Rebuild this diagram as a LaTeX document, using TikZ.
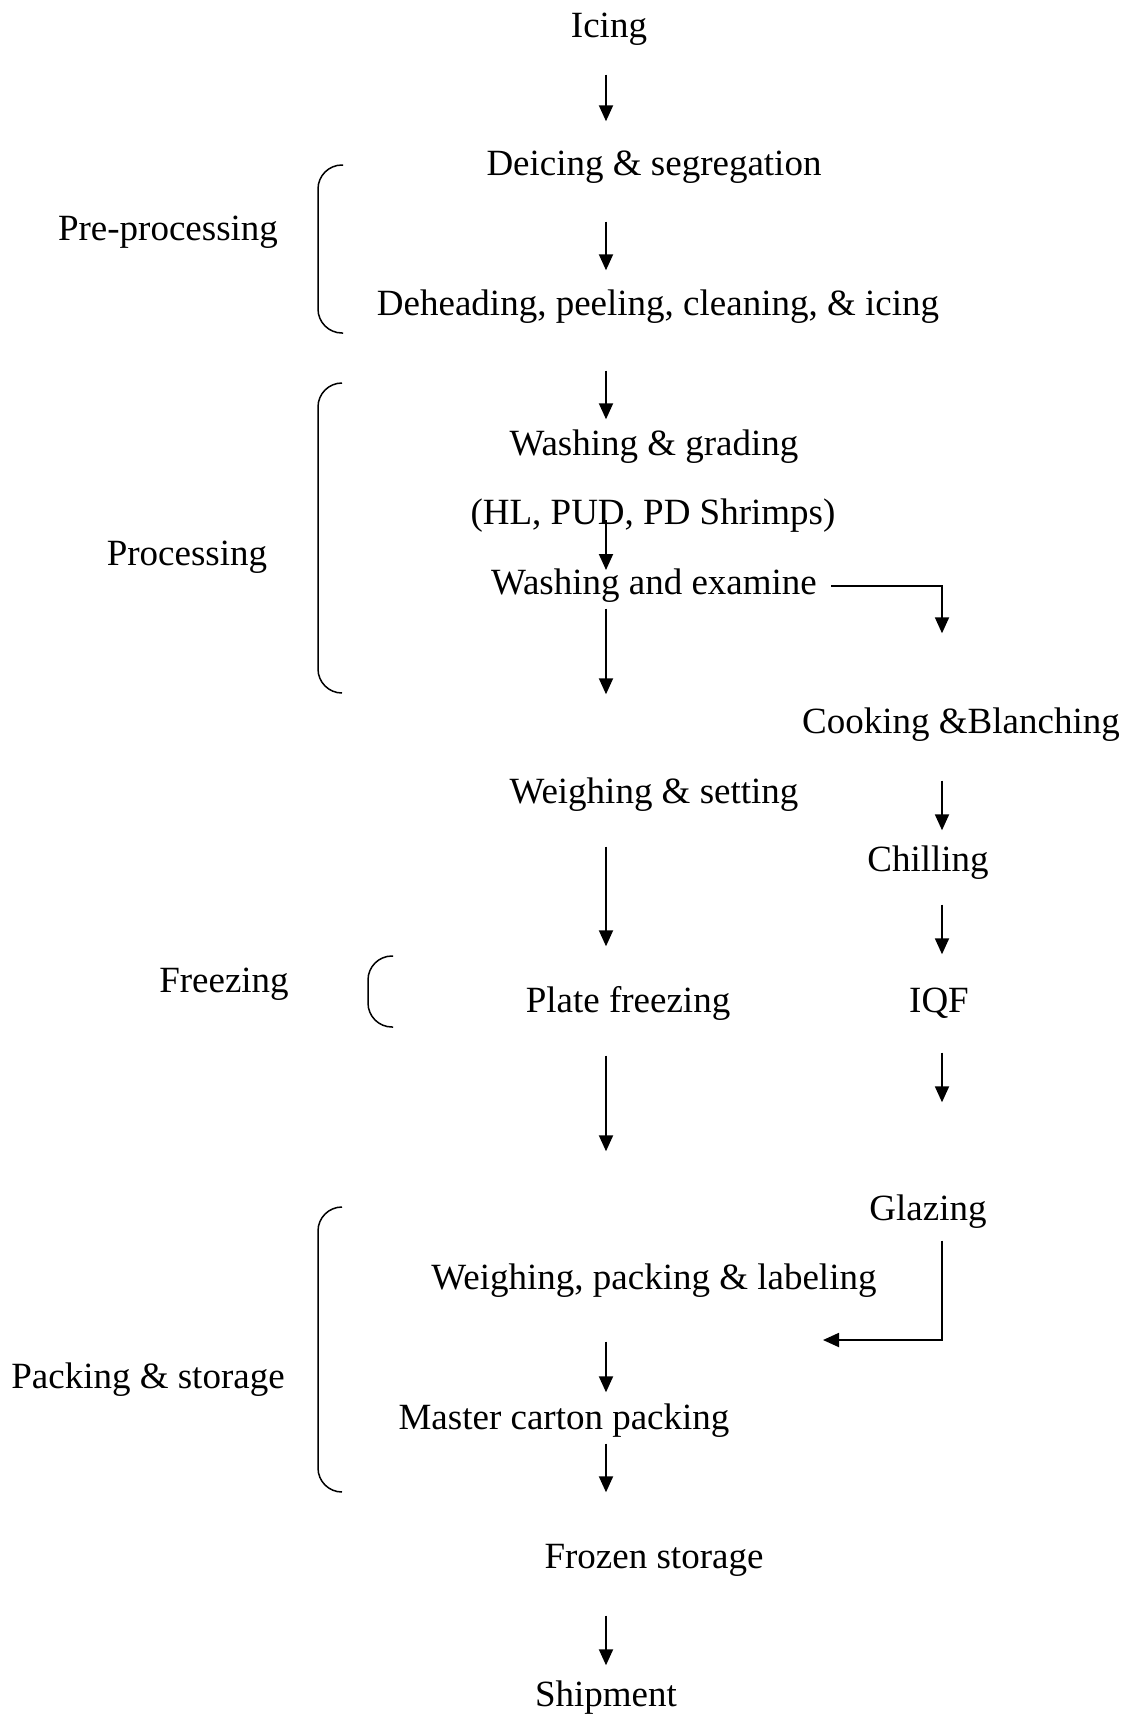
\documentclass[tikz,border=0pt]{standalone}
\usepackage{fontspec}
\setmainfont{Liberation Serif}
\usepackage{tikz}
\usetikzlibrary{arrows.meta}
\tikzset{
  pfstep/.style={
    inner sep=0pt, text height=31pt, text depth=4pt,
    font=\fontsize{37}{44}\selectfont
  },
  pfphase/.style={pfstep},
  pfedge/.style={-{Triangle[length=16pt,width=14pt]},line width=1.9pt},
  pfbrace/.style={line width=1.5pt,rounded corners=24pt}
}

\begin{document}
\begin{tikzpicture}[x=1pt,y=-1pt]
  \useasboundingbox (0,0) rectangle (1127,1721);
  \coordinate (spine) at (606,0);
  \coordinate (rspine) at (942,0);

  % Main line
  \node[pfstep] (icing) at (609,24) {Icing};
  \node[pfstep] (deice) at (654,162) {Deicing \& segregation};
  \node[pfstep] (dehead) at (658,302) {Deheading, peeling, cleaning, \& icing};
  \node[pfstep] (grade) at (654,442) {Washing \& grading};
  \node[pfstep] (hl) at (653,511) {(HL, PUD, PD Shrimps)};
  \node[pfstep] (examine) at (654,581) {Washing and examine};
  \node[pfstep] (setting) at (654,790) {Weighing \& setting};
  \node[pfstep] (plate) at (628,999) {Plate freezing};
  \node[pfstep] (wpl) at (654,1276) {Weighing, packing \& labeling};
  \node[pfstep] (master) at (564,1416) {Master carton packing};
  \node[pfstep] (frozen) at (654,1555) {Frozen storage};
  \node[pfstep] (ship) at (606,1693) {Shipment};

  \draw[pfedge,shorten <=33pt,shorten >=23pt] (icing.south -| spine) -- (deice.north -| spine);
  \draw[pfedge,shorten <=42pt,shorten >=14pt] (deice.south -| spine) -- (dehead.north -| spine);
  \draw[pfedge,shorten <=51pt,shorten >=5pt] (dehead.south -| spine) -- (grade.north -| spine);
  \draw[pfedge,shorten <=9pt,shorten >=11pt] (hl -| spine) -- (examine -| spine);
  \draw[pfedge,shorten <=10pt,shorten >=78pt] (examine.south -| spine) -- (setting.north -| spine);
  \draw[pfedge,shorten <=39pt,shorten >=35pt] (setting.south -| spine) -- (plate.north -| spine);
  \draw[pfedge,shorten <=39pt,shorten >=107pt] (plate.south -| spine) -- (wpl.north -| spine);
  \draw[pfedge,shorten <=48pt,shorten >=6pt] (wpl.south -| spine) -- (master.north -| spine);
  \draw[pfedge,shorten <=10pt,shorten >=45pt] (master.south -| spine) -- (frozen.north -| spine);
  \draw[pfedge,shorten <=43pt,shorten >=10pt] (frozen.south -| spine) -- (ship.north -| spine);

  % Side line
  \node[pfstep] (cooking) at (961,720) {Cooking \&Blanching};
  \node[pfstep] (chilling) at (928,858) {Chilling};
  \node[pfstep] (iqf) at (939,999) {IQF};
  \node[pfstep] (glazing) at (928,1207) {Glazing};
  \coordinate (gtip) at (823,1340);

  \draw[pfedge,shorten >=69pt] ([xshift=14pt,yshift=-5pt]examine.east) -| (cooking.north -| rspine);
  \draw[pfedge,shorten <=43pt,shorten >=10pt] (cooking.south -| rspine) -- (chilling.north -| rspine);
  \draw[pfedge,shorten <=29pt,shorten >=27pt] (chilling.south -| rspine) -- (iqf.north -| rspine);
  \draw[pfedge,shorten <=36pt,shorten >=87pt] (iqf.south -| rspine) -- (glazing.north -| rspine);
  \draw[pfedge,shorten <=16pt] (glazing.south -| rspine) |- (gtip);

  % Phases
  \node[pfphase] (pre) at (168,227) {Pre-processing};
  \node[pfphase] (proc) at (187,552) {Processing};
  \node[pfphase] (freez) at (224,979) {Freezing};
  \node[pfphase] (pack) at (148,1375) {Packing \& storage};

  \draw[pfbrace] (343,165) -- (318,165) -- (318,333) -- (343,333);
  \draw[pfbrace] (342,383) -- (318,383) -- (318,693) -- (342,693);
  \draw[pfbrace] (393,956) -- (368,956) -- (368,1027) -- (393,1027);
  \draw[pfbrace] (342,1207) -- (318,1207) -- (318,1492) -- (342,1492);
\end{tikzpicture}
\end{document}
